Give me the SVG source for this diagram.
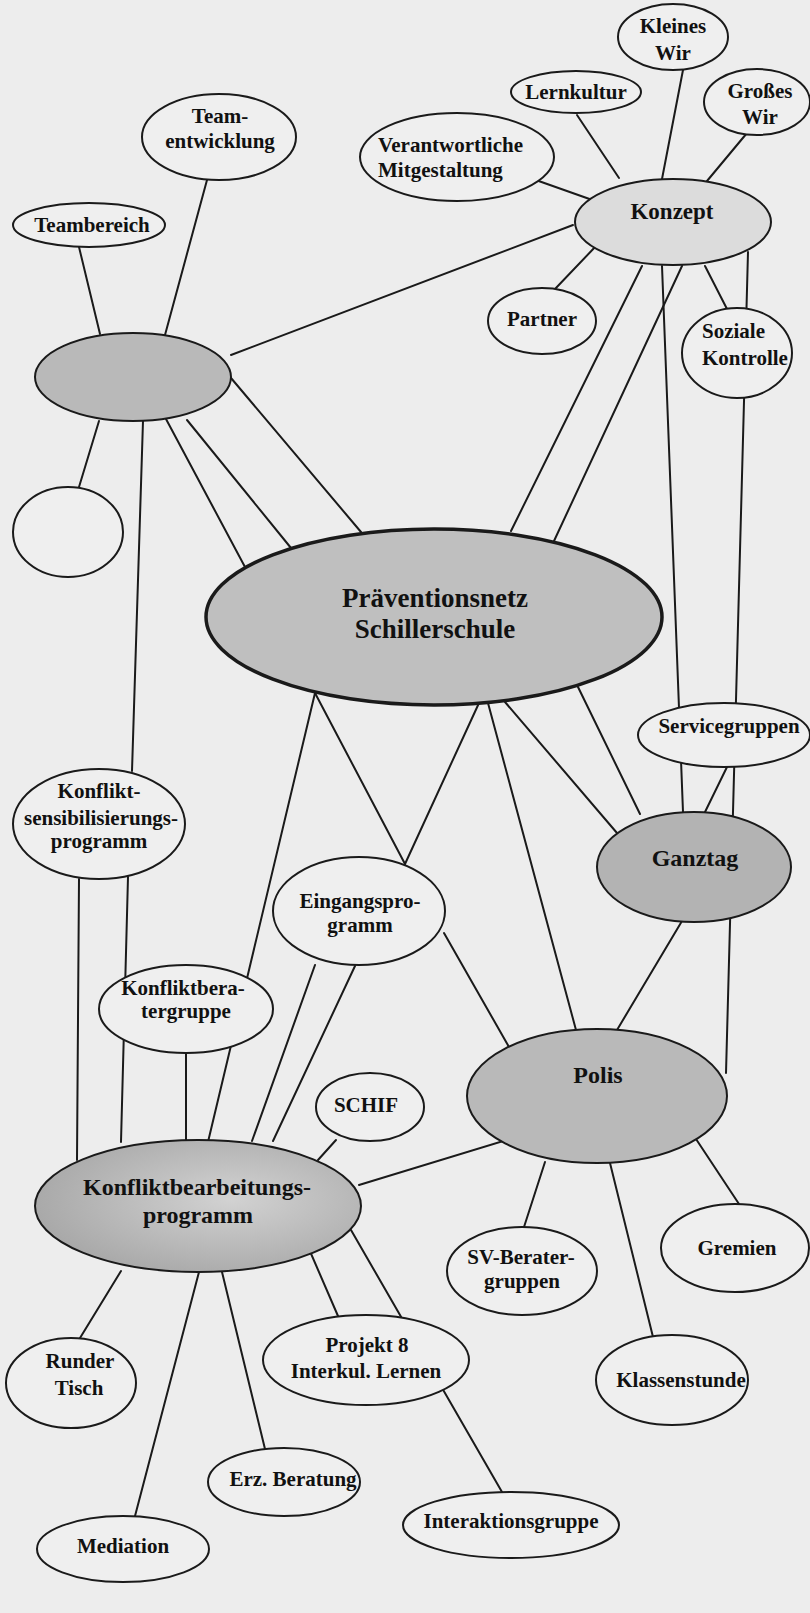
<svg xmlns="http://www.w3.org/2000/svg" width="810" height="1613" viewBox="0 0 810 1613">
<style>
.n{stroke:#1a1a1a;stroke-width:2;fill:#efefef}
.g{fill:#b9b9b9}
.k{fill:#dcdcdc}
.c line{stroke:#1a1a1a;stroke-width:2;stroke-linecap:round}
text{font-family:"Liberation Serif","Times New Roman",serif;font-weight:bold;font-size:21px;fill:#111;text-anchor:middle}
</style>
<defs>
<radialGradient id="kb" cx="0.6" cy="0.45" r="0.6">
<stop offset="0" stop-color="#d2d2d2"/>
<stop offset="1" stop-color="#a9a9a9"/>
</radialGradient>
</defs>
<rect x="0" y="0" width="810" height="1613" fill="#ededed"/>
<g class="c" id="connectors">
<line x1="577" y1="115" x2="619" y2="178"/>
<line x1="683" y1="70" x2="662" y2="179"/>
<line x1="747" y1="133" x2="707" y2="181"/>
<line x1="533" y1="179" x2="598" y2="202"/>
<line x1="573" y1="225" x2="231" y2="355"/>
<line x1="597" y1="245" x2="555" y2="289"/>
<line x1="705" y1="266" x2="727" y2="309"/>
<line x1="748" y1="252" x2="726" y2="1073"/>
<line x1="662" y1="266" x2="683" y2="812"/>
<line x1="642" y1="266" x2="511" y2="531"/>
<line x1="682" y1="266" x2="554" y2="541"/>
<line x1="79" y1="247" x2="100" y2="334"/>
<line x1="207" y1="180" x2="165" y2="335"/>
<line x1="99" y1="421" x2="79" y2="487"/>
<line x1="143" y1="421" x2="132" y2="771"/>
<line x1="166" y1="419" x2="245" y2="567"/>
<line x1="187" y1="420" x2="291" y2="548"/>
<line x1="231" y1="378" x2="361" y2="532"/>
<line x1="315" y1="693" x2="208" y2="1142"/>
<line x1="315" y1="693" x2="405" y2="864"/>
<line x1="479" y1="703" x2="405" y2="864"/>
<line x1="488" y1="703" x2="576" y2="1030"/>
<line x1="505" y1="702" x2="617" y2="833"/>
<line x1="578" y1="687" x2="640" y2="814"/>
<line x1="727" y1="767" x2="705" y2="812"/>
<line x1="682" y1="921" x2="617" y2="1030"/>
<line x1="444" y1="933" x2="509" y2="1047"/>
<line x1="315" y1="965" x2="252" y2="1141"/>
<line x1="355" y1="966" x2="273" y2="1141"/>
<line x1="79" y1="879" x2="77" y2="1160"/>
<line x1="128" y1="877" x2="121" y2="1142"/>
<line x1="186" y1="1053" x2="186" y2="1141"/>
<line x1="336" y1="1140" x2="318" y2="1160"/>
<line x1="510" y1="1139" x2="359" y2="1185"/>
<line x1="545" y1="1162" x2="524" y2="1227"/>
<line x1="610" y1="1163" x2="653" y2="1337"/>
<line x1="696" y1="1139" x2="739" y2="1204"/>
<line x1="121" y1="1271" x2="80" y2="1338"/>
<line x1="199" y1="1272" x2="135" y2="1516"/>
<line x1="222" y1="1272" x2="265" y2="1449"/>
<line x1="309" y1="1249" x2="338" y2="1316"/>
<line x1="351" y1="1230" x2="502" y2="1492"/>
</g>
<g id="kleines-wir"><ellipse class="n" cx="673" cy="37" rx="55" ry="33"/><text x="673" y="33">Kleines</text><text x="673" y="60">Wir</text></g>
<g id="lernkultur"><ellipse class="n" cx="576" cy="92" rx="65" ry="21"/><text x="576" y="99">Lernkultur</text></g>
<g id="grosses-wir"><ellipse class="n" cx="757" cy="102" rx="53" ry="33"/><text x="760" y="98">Großes</text><text x="760" y="124">Wir</text></g>
<g id="verantwortliche-mitgestaltung"><ellipse class="n" cx="457" cy="157" rx="97" ry="44"/><text x="378" y="152" style="text-anchor:start">Verantwortliche</text><text x="378" y="177" style="text-anchor:start">Mitgestaltung</text></g>
<g id="konzept"><ellipse class="n k" cx="673" cy="222" rx="98" ry="43"/><text x="672" y="219" style="font-size:23px">Konzept</text></g>
<g id="team-entwicklung"><ellipse class="n" cx="219" cy="137" rx="77" ry="43"/><text x="220" y="123">Team-</text><text x="220" y="148">entwicklung</text></g>
<g id="teambereich"><ellipse class="n" cx="89" cy="225" rx="76" ry="22"/><text x="92" y="232">Teambereich</text></g>
<g id="gray-node"><ellipse class="n g" cx="133" cy="377" rx="98" ry="44"/></g>
<g id="empty-node"><ellipse class="n" cx="68" cy="532" rx="55" ry="45"/></g>
<g id="partner"><ellipse class="n" cx="542" cy="321" rx="54" ry="33"/><text x="542" y="326">Partner</text></g>
<g id="soziale-kontrolle"><ellipse class="n" cx="737" cy="353" rx="55" ry="45"/><text x="702" y="338" style="text-anchor:start">Soziale</text><text x="702" y="365" style="text-anchor:start">Kontrolle</text></g>
<g id="praeventionsnetz"><ellipse class="n" style="fill:#bfbfbf;stroke-width:3.5" cx="434" cy="617" rx="228" ry="88"/><text x="435" y="607" style="font-size:27px">Präventionsnetz</text><text x="435" y="638" style="font-size:27px">Schillerschule</text></g>
<g id="servicegruppen"><ellipse class="n" cx="724" cy="735" rx="86" ry="32"/><text x="729" y="733">Servicegruppen</text></g>
<g id="ganztag"><ellipse class="n g" style="fill:#b3b3b3" cx="694" cy="867" rx="97" ry="55"/><text x="695" y="866" style="font-size:24px">Ganztag</text></g>
<g id="konfliktsensibilisierungsprogramm"><ellipse class="n" cx="99" cy="824" rx="86" ry="55"/><text x="99" y="798">Konflikt-</text><text x="101" y="825">sensibilisierungs-</text><text x="99" y="848">programm</text></g>
<g id="eingangsprogramm"><ellipse class="n" cx="359" cy="911" rx="86" ry="54"/><text x="360" y="908">Eingangspro-</text><text x="360" y="932">gramm</text></g>
<g id="konfliktberatergruppe"><ellipse class="n" cx="186" cy="1009" rx="87" ry="44"/><text x="183" y="995">Konfliktbera-</text><text x="186" y="1018">tergruppe</text></g>
<g id="schif"><ellipse class="n" cx="370" cy="1107" rx="54" ry="34"/><text x="366" y="1112">SCHIF</text></g>
<g id="polis"><ellipse class="n g" cx="597" cy="1096" rx="130" ry="67"/><text x="598" y="1083" style="font-size:24px">Polis</text></g>
<g id="konfliktbearbeitungsprogramm"><ellipse class="n" style="fill:url(#kb)" cx="198" cy="1206" rx="163" ry="66"/><text x="197" y="1195" style="font-size:24px">Konfliktbearbeitungs-</text><text x="198" y="1223" style="font-size:24px">programm</text></g>
<g id="sv-beratergruppen"><ellipse class="n" cx="522" cy="1271" rx="75" ry="44"/><text x="521" y="1264">SV-Berater-</text><text x="522" y="1288">gruppen</text></g>
<g id="gremien"><ellipse class="n" cx="735" cy="1248" rx="74" ry="44"/><text x="737" y="1255">Gremien</text></g>
<g id="klassenstunde"><ellipse class="n" cx="672" cy="1380" rx="76" ry="45"/><text x="681" y="1387">Klassenstunde</text></g>
<g id="runder-tisch"><ellipse class="n" cx="71" cy="1383" rx="65" ry="45"/><text x="80" y="1368">Runder</text><text x="79" y="1395">Tisch</text></g>
<g id="projekt-8"><ellipse class="n" cx="366" cy="1360" rx="103" ry="45"/><text x="367" y="1352">Projekt 8</text><text x="366" y="1378">Interkul. Lernen</text></g>
<g id="erz-beratung"><ellipse class="n" cx="284" cy="1482" rx="76" ry="34"/><text x="293" y="1486">Erz. Beratung</text></g>
<g id="mediation"><ellipse class="n" cx="123" cy="1549" rx="86" ry="33"/><text x="123" y="1553">Mediation</text></g>
<g id="interaktionsgruppe"><ellipse class="n" cx="511" cy="1525" rx="108" ry="33"/><text x="511" y="1528">Interaktionsgruppe</text></g>
</svg>
